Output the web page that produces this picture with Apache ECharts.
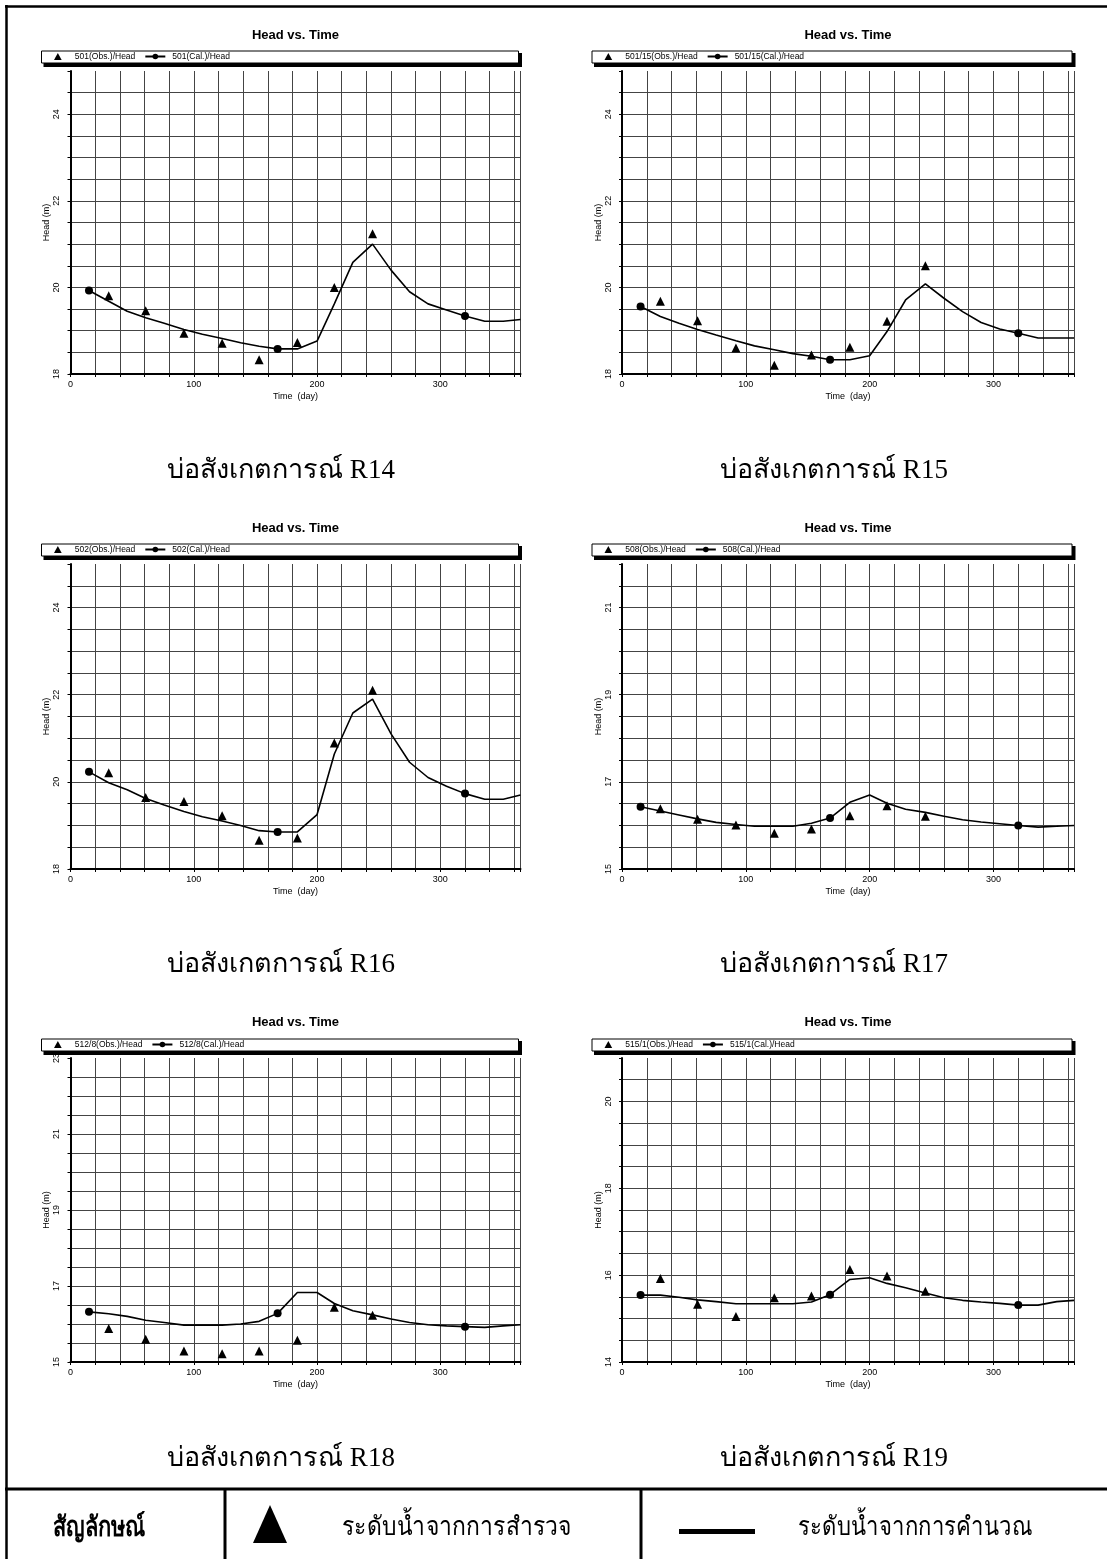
<!DOCTYPE html>
<html>
<head>
<meta charset="utf-8">
<script src="https://cdn.jsdelivr.net/npm/echarts@6/dist/echarts.min.js"></script>
<style>
html,body{margin:0;padding:0;background:#fff;}
#c{width:1107px;height:1559px;}
</style>
</head>
<body>
<div id="c"></div>
<script>
// ---------- data ----------
const wellNames = ['R14', 'R15', 'R16', 'R17', 'R18', 'R19'];
const wellIds = ['501', '501/15', '502', '508', '512/8', '515/1'];
const calDays = [15, 31, 46, 61, 76, 92, 107, 123, 138, 153, 168, 184, 200, 214, 229, 245, 260, 275, 290, 305, 320, 336, 351, 365];
const markerDays = [15, 168, 320];
const obsDays = [31, 61, 92, 123, 153, 184, 214, 245];

const calR14 = [19.93, 19.68, 19.45, 19.30, 19.17, 19.03, 18.92, 18.82, 18.72, 18.64, 18.58, 18.58, 18.76, 19.62, 20.58, 21.00, 20.40, 19.90, 19.62, 19.48, 19.34, 19.22, 19.22, 19.26];
const obsR14 = [19.81, 19.46, 18.94, 18.71, 18.33, 18.73, 20.00, 21.24];
const calR15 = [19.56, 19.33, 19.17, 19.03, 18.90, 18.77, 18.65, 18.56, 18.47, 18.41, 18.33, 18.33, 18.42, 18.98, 19.71, 20.08, 19.75, 19.44, 19.19, 19.04, 18.94, 18.83, 18.83, 18.83];
const obsR15 = [19.68, 19.23, 18.60, 18.20, 18.44, 18.62, 19.22, 20.50];
const calR16 = [20.23, 19.98, 19.82, 19.62, 19.47, 19.32, 19.20, 19.10, 19.00, 18.88, 18.85, 18.85, 19.25, 20.64, 21.58, 21.90, 21.10, 20.45, 20.10, 19.90, 19.73, 19.60, 19.60, 19.70];
const obsR16 = [20.21, 19.64, 19.55, 19.22, 18.66, 18.71, 20.89, 22.10];
const calR17 = [16.43, 16.33, 16.24, 16.15, 16.07, 16.02, 15.98, 15.98, 15.98, 16.05, 16.17, 16.53, 16.70, 16.51, 16.37, 16.30, 16.21, 16.13, 16.08, 16.04, 16.00, 15.96, 15.98, 16.00];
const obsR17 = [16.38, 16.14, 16.01, 15.82, 15.92, 16.22, 16.45, 16.21];
const calR18 = [16.32, 16.27, 16.20, 16.10, 16.04, 15.97, 15.97, 15.97, 16.00, 16.07, 16.28, 16.83, 16.83, 16.54, 16.35, 16.24, 16.13, 16.04, 15.98, 15.95, 15.93, 15.91, 15.95, 15.98];
const obsR18 = [15.88, 15.60, 15.29, 15.22, 15.29, 15.57, 16.44, 16.23];
const calR19 = [15.54, 15.54, 15.49, 15.43, 15.39, 15.34, 15.34, 15.34, 15.34, 15.38, 15.55, 15.90, 15.94, 15.81, 15.71, 15.59, 15.48, 15.42, 15.38, 15.35, 15.31, 15.31, 15.39, 15.42];
const obsR19 = [15.92, 15.33, 15.05, 15.48, 15.52, 16.13, 15.98, 15.63];

const calAll = [calR14, calR15, calR16, calR17, calR18, calR19];
const obsAll = [obsR14, obsR15, obsR16, obsR17, obsR18, obsR19];

const yMins = [18, 18, 18, 15, 15, 14];
const yMaxs = [25, 25, 25, 22, 23, 21];
const yTickLabels = [[18, 20, 22, 24], [18, 20, 22, 24], [18, 20, 22, 24], [15, 17, 19, 21], [15, 17, 19, 21, 23], [14, 16, 18, 20]];
const xTickLabels = [0, 100, 200, 300];
const xMax = 365;

const chartTitle = 'Head vs. Time';
const xName = 'Time  (day)';
const yName = 'Head (m)';
const captionPrefix = 'บ่อสังเกตการณ์ ';
const legendHeader = 'สัญลักษณ์';
const legendObsText = 'ระดับน้ำจากการสำรวจ';
const legendCalText = 'ระดับน้ำจากการคำนวณ';

// ---------- layout ----------
const colLeft = [70.5, 622];
const colWidth = [450, 452];
const boxLeft = [41.5, 592];
const boxRight = [518.5, 1072];
const rowTop = [71, 564, 1058];
const rowHeight = [303, 305, 304];
const titleY = [35, 528, 1022];
const boxTop = [51, 544, 1039];
const captionY = [471, 965, 1459];
const captionX = [281, 834];

const sans = "'Liberation Sans', Arial, sans-serif";
const serif = "'Liberation Serif', 'Times New Roman', serif";
const triIcon = 'path://M0,10 L5.5,0 L11,10 Z';

const grids = [], xAxes = [], yAxes = [], series = [], legends = [], graphics = [];

for (let i = 0; i < 6; i++) {
  const r = Math.floor(i / 2), c = i % 2;
  grids.push({left: colLeft[c], top: rowTop[r], width: colWidth[c], height: rowHeight[r], containLabel: false});
  xAxes.push({
    type: 'value', gridIndex: i, min: 0, max: xMax, interval: 20,
    name: xName, nameLocation: 'middle', nameGap: 18,
    nameTextStyle: {fontFamily: sans, fontSize: 9, color: '#000'},
    axisLine: {show: true, onZero: false, lineStyle: {color: '#000', width: 2}},
    axisTick: {show: true, inside: false, length: 3, lineStyle: {color: '#000'}},
    axisLabel: {customValues: xTickLabels, fontFamily: sans, fontSize: 9, color: '#000', margin: 6},
    splitLine: {show: true, lineStyle: {color: '#444', width: 1}}
  });
  yAxes.push({
    type: 'value', gridIndex: i, min: yMins[i], max: yMaxs[i], interval: 0.5,
    name: yName, nameLocation: 'middle', nameGap: 19, nameRotate: 90,
    nameTextStyle: {fontFamily: sans, fontSize: 9, color: '#000'},
    axisLine: {show: true, onZero: false, lineStyle: {color: '#000', width: 2}},
    axisTick: {show: true, inside: false, length: 3, lineStyle: {color: '#000'}},
    axisLabel: {customValues: yTickLabels[i], rotate: 90, fontFamily: sans, fontSize: 9, color: '#000', margin: 9},
    splitLine: {show: true, showMaxLine: false, lineStyle: {color: '#444', width: 1}}
  });
  const obsName = wellIds[i] + '(Obs.)/Head';
  const calName = wellIds[i] + '(Cal.)/Head';
  series.push({
    type: 'scatter', name: obsName, xAxisIndex: i, yAxisIndex: i,
    symbol: 'triangle', symbolSize: [9, 9],
    itemStyle: {color: '#000', opacity: 1},
    data: obsDays.map((d, j) => [d, obsAll[i][j]]),
    z: 4
  });
  series.push({
    type: 'line', name: calName, xAxisIndex: i, yAxisIndex: i,
    symbol: 'circle', symbolSize: 8, showSymbol: true, showAllSymbol: true,
    lineStyle: {color: '#000', width: 1.6},
    itemStyle: {color: '#000', opacity: 1},
    animation: false,
    data: calDays.map((d, j) => ({value: [d, calAll[i][j]], symbol: markerDays.indexOf(d) >= 0 ? 'circle' : 'none'})),
    z: 3
  });
  legends.push({
    data: [{name: obsName, icon: triIcon}, {name: calName}],
    left: boxLeft[c] + 12.5, top: boxTop[r] + 1,
    orient: 'horizontal', itemWidth: 20, itemHeight: 7, itemGap: 9, padding: 0,
    selectedMode: false, symbolKeepAspect: true,
    textStyle: {fontFamily: sans, fontSize: 8.5, color: '#000', padding: [0, 0, 0, 2]}
  });
  // legend box with shadow
  const bw = boxRight[c] - boxLeft[c], bh = 12;
  graphics.push({type: 'rect', shape: {x: boxLeft[c] + 2, y: boxTop[r] + 2, width: bw + 1.5, height: bh + 2}, style: {fill: '#000'}, z: 0});
  graphics.push({type: 'rect', shape: {x: boxLeft[c], y: boxTop[r], width: bw, height: bh}, style: {fill: '#fff', stroke: '#000', lineWidth: 1}, z: 1});
  // title
  graphics.push({type: 'text', x: colLeft[c] + colWidth[c] / 2, y: titleY[r],
    style: {text: chartTitle, align: 'center', verticalAlign: 'middle', textAlign: 'center', textVerticalAlign: 'middle',
      font: 'bold 13px ' + sans, fill: '#000'}, z: 5});
  // caption
  graphics.push({type: 'text', x: captionX[c], y: captionY[r],
    style: {text: captionPrefix + wellNames[i], align: 'center', verticalAlign: 'middle', textAlign: 'center', textVerticalAlign: 'middle',
      font: '27px ' + serif, fill: '#000'}, z: 5});
}

// page frame and symbol table
const lineBlack = {stroke: '#000', lineWidth: 2.5};
graphics.push({type: 'line', shape: {x1: 5, y1: 6.5, x2: 1107, y2: 6.5}, style: lineBlack});
graphics.push({type: 'line', shape: {x1: 6.5, y1: 5, x2: 6.5, y2: 1559}, style: lineBlack});
graphics.push({type: 'line', shape: {x1: 5, y1: 1489, x2: 1107, y2: 1489}, style: {stroke: '#000', lineWidth: 3}});
graphics.push({type: 'line', shape: {x1: 225, y1: 1489, x2: 225, y2: 1559}, style: {stroke: '#000', lineWidth: 3}});
graphics.push({type: 'line', shape: {x1: 641, y1: 1489, x2: 641, y2: 1559}, style: {stroke: '#000', lineWidth: 3}});
graphics.push({type: 'text', x: 99, y: 1529, scaleX: 0.78, style: {text: legendHeader, align: 'center', verticalAlign: 'middle', textAlign: 'center', textVerticalAlign: 'middle', font: 'bold 28px ' + serif, fill: '#000'}});
graphics.push({type: 'polygon', shape: {points: [[253, 1543], [287, 1543], [270, 1505]]}, style: {fill: '#000'}});
graphics.push({type: 'text', x: 342, y: 1528, scaleX: 0.88, style: {text: legendObsText, align: 'left', verticalAlign: 'middle', textAlign: 'left', textVerticalAlign: 'middle', font: '26px ' + serif, fill: '#000'}});
graphics.push({type: 'rect', shape: {x: 679, y: 1529, width: 76, height: 5}, style: {fill: '#000'}});
graphics.push({type: 'text', x: 1032, y: 1528, scaleX: 0.85, style: {text: legendCalText, align: 'right', verticalAlign: 'middle', textAlign: 'right', textVerticalAlign: 'middle', font: '26px ' + serif, fill: '#000'}});

const chart = echarts.init(document.getElementById('c'), null, {renderer: 'canvas'});
chart.setOption({
  animation: false,
  backgroundColor: '#fff',
  grid: grids,
  xAxis: xAxes,
  yAxis: yAxes,
  legend: legends,
  series: series,
  graphic: {elements: graphics}
});
</script>
</body>
</html>
